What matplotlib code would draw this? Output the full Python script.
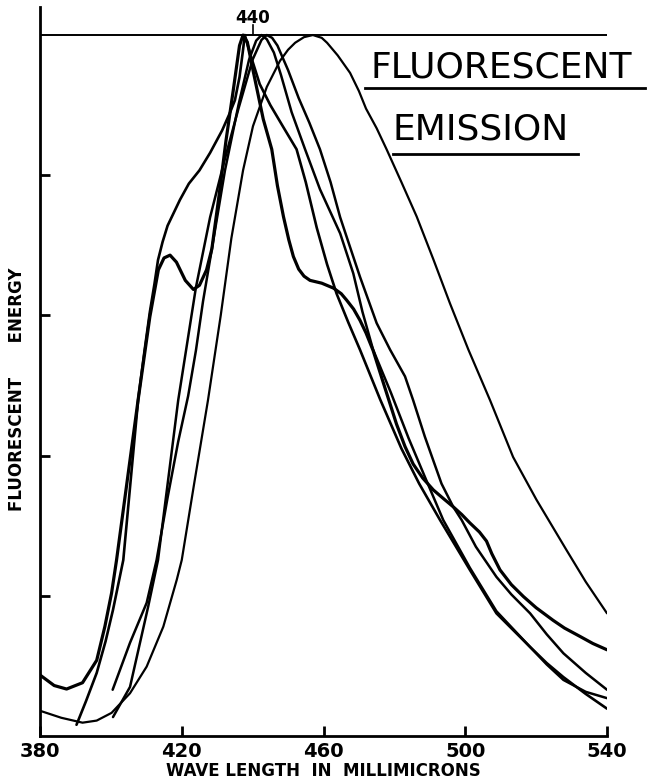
import matplotlib
matplotlib.use("Agg")
import matplotlib.pyplot as plt

# wave length (millimicrons) and relative fluorescent energy
# curve with the hump near 416 and the shoulder near 460
hump_x = [380, 384, 387.5, 392, 396, 398.3, 400.2, 401.6, 404.5, 407.7, 411, 413.4, 415, 416.7,
          418.5, 421, 423.3, 425, 427, 428.5, 430.5, 432.5, 434.5, 436.3, 437.3, 438.5, 440.1,
          443, 445.4, 447, 448.7, 450.2, 451.5, 453, 454.5, 456.2, 459.5, 462.8, 465, 466.5,
          468.5, 470.3, 472, 474, 477, 480.6, 483, 485.3, 488, 491, 494, 496.6, 499, 501.3,
          504, 506, 507.5, 509.8, 513, 516.4, 520, 524.8, 528, 532.4, 536, 540]
hump_y = [8.7, 7.2, 6.7, 7.6, 10.8, 15.6, 20.4, 25.1, 36, 48, 59.8, 66.5, 68.2, 68.6,
          67.6, 65, 63.7, 64.3, 66.5, 69.5, 77, 85, 92, 98.5, 100, 99, 95,
          88, 83.7, 78.5, 74.1, 70.8, 68.4, 66.6, 65.6, 65, 64.6, 63.9, 63.1, 62.2,
          60.9, 59.3, 57.5, 55, 50.2, 44.5, 41.3, 38.8, 36.8, 35.1, 33.8, 32.7, 31.6, 30.4,
          29.1, 27.8, 26, 23.7, 21.6, 19.9, 18.3, 16.5, 15.4, 14.2, 13.2, 12.3]

# curve with the smooth left shoulder
shoulder_x = [390.3, 393, 396, 398.5, 400.6, 403.5, 405.5, 407.7, 409.5, 411, 412.3, 413.3, 414.6,
              416, 419.5, 422, 425, 428, 431.4, 433.5, 435, 436.3, 437.2, 437.8, 439.5, 442, 445,
              448.5, 452.4, 455, 458.1, 461, 463.7, 467, 470.3, 476, 482, 487, 492.9, 501.3,
              508.8, 518.3, 523, 527.7, 534, 540]
shoulder_y = [1.6, 5, 9, 13.5, 18, 25.1, 36, 48, 55, 60.5, 64.5, 67.9, 70.5,
              72.8, 76.5, 78.8, 80.7, 83.2, 86.4, 88.8, 90.7, 94, 97.5, 100, 97, 93, 90,
              87, 83.7, 79, 72.5, 67.3, 63.1, 59, 55.1, 48, 41, 36, 30.8, 23.7,
              17.5, 12.7, 10.4, 8.4, 6, 3.9]

# narrow curve peaking near 442
narrow_x = [400.5, 405.4, 410.1, 412.9, 416, 419, 421.8, 424, 426, 429, 432.2, 436, 439, 441,
            442.5, 444, 446, 448, 451, 454.8, 459, 464.7, 468.4, 471, 474, 479, 484, 489,
            493.8, 501.3, 508.8, 518.3, 523, 527.7, 534, 540]
narrow_y = [6.6, 13.3, 19, 25.1, 34, 42, 48.5, 55, 62, 71, 80.7, 90, 96.5, 99.2,
            100, 99.4, 97.5, 94.3, 89, 83.7, 78, 71.7, 66, 60.5, 55.1, 49, 42.5, 36.5,
            30.8, 24, 17.8, 12.7, 10.2, 8, 6.3, 5.4]

# curve peaking near 444
mid_x = [400.6, 405.4, 410.5, 413.3, 419, 424, 428, 432, 436, 440, 442.5, 444, 445.5, 447, 450,
         453, 456, 459, 462, 464.7, 467, 470.3, 475, 478.8, 483, 485.3, 488.6, 493.3, 496.6,
         499, 503, 508.8, 513, 518.3, 523, 527.7, 534, 540]
mid_y = [2.7, 7, 18.4, 25.1, 47.9, 64, 74, 82, 89.5, 96.5, 99.3, 100, 99.6, 98.5, 95,
         91, 87.5, 83.7, 79, 74, 70.5, 65.5, 58.9, 55.1, 51.3, 47.9, 42.7, 36, 32.7,
         30.8, 27, 22.7, 20.2, 17.5, 14.5, 11.8, 9, 6.6]

# broad curve peaking near 457
broad_x = [380, 386, 392, 396, 400.2, 405.4, 410.1, 414.8, 418.6, 420, 423.5, 427.4, 431, 434,
           437.3, 440.1, 444, 447.7, 450, 452, 454.5, 457, 459.5, 461, 464, 467.5, 470, 472,
           475, 477.8, 482, 486.3, 491, 495.7, 500.9, 507, 513.5, 520.1, 528.6, 534, 540]
broad_y = [3.6, 2.6, 1.9, 2.2, 3.3, 6.1, 9.9, 15.6, 22.3, 25.1, 36, 47.9, 60, 71,
           80.7, 87, 92.6, 96.3, 97.9, 98.9, 99.7, 100, 99.6, 98.9, 97.1, 94.6, 92, 89.5,
           86.7, 83.7, 79, 74.1, 68, 61.7, 55.1, 47.9, 39.8, 33.7, 26.5, 22, 17.5]

x_ticks = [380, 420, 460, 500, 540]
y_ticks = [20, 40, 60, 80]

fig = plt.figure(figsize=(6.48, 7.83), dpi=100)
ax = fig.add_axes([40 / 648, 1 - 736 / 783, 567 / 648, 729 / 783])

kw = dict(color="black", solid_joinstyle="round", solid_capstyle="round")
ax.plot(hump_x, hump_y, lw=2.3, **kw)
ax.plot(shoulder_x, shoulder_y, lw=1.9, **kw)
ax.plot(narrow_x, narrow_y, lw=1.8, **kw)
ax.plot(mid_x, mid_y, lw=1.8, **kw)
ax.plot(broad_x, broad_y, lw=1.6, **kw)

# full-scale line and the 440 marker
ax.plot([380, 540], [100, 100], color="black", lw=1.4)
ax.plot([440, 440], [100, 101.5], color="black", lw=1.2)
ax.text(440, 101.2, "440", ha="center", va="bottom", fontsize=12, fontweight="bold")

ax.set_xlim(380, 540)
ax.set_ylim(0, 104)
for s in ("top", "right"):
    ax.spines[s].set_visible(False)
for s in ("left", "bottom"):
    ax.spines[s].set_linewidth(2)
ax.set_xticks(x_ticks)
ax.set_xticklabels([str(v) for v in x_ticks], fontsize=14, fontweight="bold")
ax.set_yticks(y_ticks)
ax.set_yticklabels([])
ax.tick_params(direction="in", length=7, width=2, pad=4)
ax.set_xlabel("WAVE LENGTH  IN  MILLIMICRONS", fontsize=12, fontweight="bold", labelpad=1)
ax.set_ylabel("FLUORESCENT      ENERGY", fontsize=12, fontweight="bold")
ax.yaxis.set_label_coords(-0.025, 0.475)

# title block, underlined
fig.text(501 / 648, 1 - 68 / 783, "FLUORESCENT", ha="center", va="center", fontsize=26)
fig.text(481 / 648, 1 - 130 / 783, "EMISSION", ha="center", va="center", fontsize=26)
fig.add_artist(plt.Line2D([365 / 648, 645 / 648], [1 - 88 / 783] * 2, color="black", lw=2))
fig.add_artist(plt.Line2D([393 / 648, 578 / 648], [1 - 154 / 783] * 2, color="black", lw=2))

fig.savefig("out.png", dpi=100)
